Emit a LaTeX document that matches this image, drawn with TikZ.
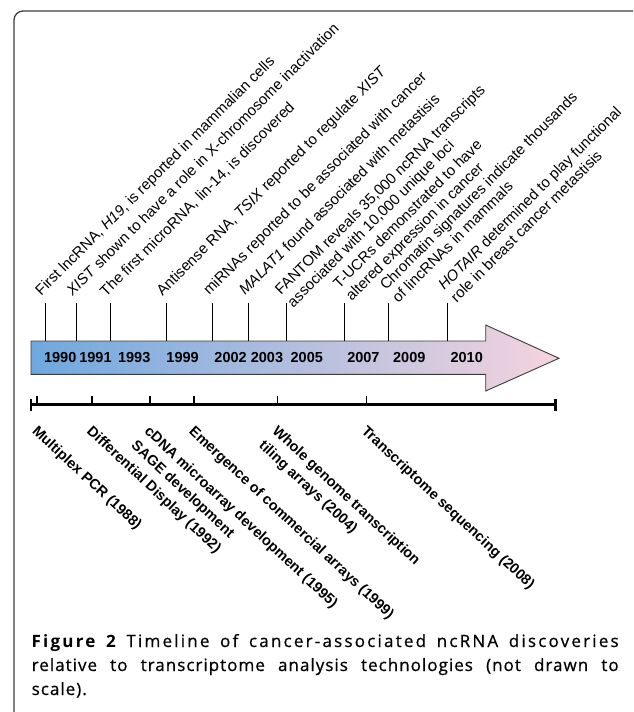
\documentclass[tikz,border=0pt]{standalone}
\usepackage{fontspec}
\setmainfont{Liberation Sans}
\newfontfamily\capfont{Open Sans}[LetterSpace=6,UprightFeatures={FakeBold=0.7}]
\definecolor{arrowL}{RGB}{110,168,222}
\definecolor{arrowR}{RGB}{246,212,222}
\definecolor{framegray}{RGB}{60,60,60}
\begin{document}
\begin{tikzpicture}[x=1pt,y=-1pt,
  toplabel/.style={rotate=45,anchor=base west,inner sep=0pt,align=left,
    font=\fontsize{15}{17.5}\selectfont},
  botlabel/.style={rotate=-43,anchor=north west,inner sep=0pt,align=left,
    font=\bfseries\fontsize{14.5}{19.5}\selectfont},
  yearlabel/.style={inner sep=0pt,font=\bfseries\fontsize{14.5}{17}\selectfont},
  tickline/.style={line width=1pt,black},
  axisline/.style={line width=2.2pt,black},
  caption/.style={anchor=base west,inner sep=0pt,text width=587pt,align=justify,
    font=\capfont\fontsize{17}{24}\selectfont},
]
\useasboundingbox (0,0) rectangle (633,712);
% frame
\draw[line width=1.3pt,framegray,rounded corners=9pt] (14,712) -- (14,11) -- (633,11);
% arrow
\draw[left color=arrowL,right color=arrowR,draw=framegray,line width=0.9pt]
  (31,341) -- (485.7,341) -- (485.7,325) -- (559,358.3) -- (485.7,391)
  -- (485.7,374.3) -- (31,374.3) -- cycle;
% tick coordinates (top) and arrow attachment (bottom)
\foreach \n/\x in {1/45.3,2/76.7,3/110.7,4/166,5/212.3,6/248.3,7/286.7,8/344.3,9/388.6,10/447.3}{
  \coordinate (t\n) at (\x,303);
  \coordinate (a\n) at (\x,341);
  \draw[tickline] (t\n) -- (a\n);
}
% years
\node[yearlabel] (y1990) at (60.2,357.7) {1990};
\node[yearlabel] (y1991) at (95.5,357.7) {1991};
\node[yearlabel] (y1993) at (134.2,357.7) {1993};
\node[yearlabel] (y1999) at (182.6,357.7) {1999};
\node[yearlabel] (y2002) at (230.6,357.7) {2002};
\node[yearlabel] (y2003) at (267,357.7) {2003};
\node[yearlabel] (y2005) at (306.8,357.7) {2005};
\node[yearlabel] (y2007) at (363.4,357.7) {2007};
\node[yearlabel] (y2009) at (409.3,357.7) {2009};
\node[yearlabel] (y2010) at (466.7,357.7) {2010};
% upper labels (anchor: baseline start of last line)
\node[toplabel] (l1) at (41.2,296.5) {First lncRNA, \textit{H19}, is reported in mammalian cells};
\node[toplabel] (l2) at (72.5,296.7) {\textit{XIST} shown to have a role in X-chromosome inactivation};
\node[toplabel] (l3) at (106,297.5) {The first microRNA, lin-14, is discovered};
\node[toplabel] (l4) at (162.5,296.7) {Antisense RNA, \textit{TSIX} reported to regulate \textit{XIST}};
\node[toplabel] (l5) at (209.3,296) {miRNAs reported to be associated with cancer};
\node[toplabel] (l6) at (245,296) {\textit{MALAT1} found associated with metastisis};
\node[toplabel] (l7) at (293.3,308.3) {FANTOM reveals 35,000 ncRNA transcripts\\associated with 10,000 unique loci};
\node[toplabel] (l8) at (351.7,301.7) {T-UCRs demonstrated to have\\altered expression in cancer};
\node[toplabel] (l9) at (398.3,303.3) {Chromatin signatures indicate thousands\\of lincRNAs in mammals};
\node[toplabel] (l10) at (456.7,303.3) {\textit{HOTAIR} determined to play functional\\role in breast cancer metastisis};
% bottom axis
\coordinate (ax0) at (31,404.5);
\coordinate (ax1) at (555.4,404.5);
\draw[axisline] (ax0) -- (ax1);
\draw[axisline] (31,398.5) -- (31,411);
\draw[axisline] (555.4,398.5) -- (555.4,411);
\foreach \n/\x in {1/37.2,2/91.9,3/149.6,4/194,5/277.4,6/366.5}{
  \coordinate (b\n) at (\x,396);
  \coordinate (c\n) at (\x,404.5);
  \draw[axisline,line width=1.8pt] (b\n) -- (c\n);
}
% bottom labels
\node[botlabel] (m1) at (38.7,424.5) {Multiplex PCR (1988)};
\node[botlabel] (m2) at (93.4,424.5) {Differential Display (1992)};
\node[botlabel] (m3) at (151.1,424.5) {cDNA microarray development (1995)\\SAGE development};
\node[botlabel] (m4) at (195.5,424.5) {Emergence of commercial arrays (1999)};
\node[botlabel] (m5) at (278.9,424.5) {Whole genome transcription\\tiling arrays (2004)};
\node[botlabel] (m6) at (368,424.5) {Transcriptome sequencing (2008)};
% caption
\node[caption] (cap) at (31.5,647) {{\addfontfeature{LetterSpace=13}{\bfseries Figure 2} Timeline of cancer-associated ncRNA discoveries}\linebreak relative to transcriptome analysis technologies (not drawn to\linebreak scale).};
\end{tikzpicture}
\end{document}
